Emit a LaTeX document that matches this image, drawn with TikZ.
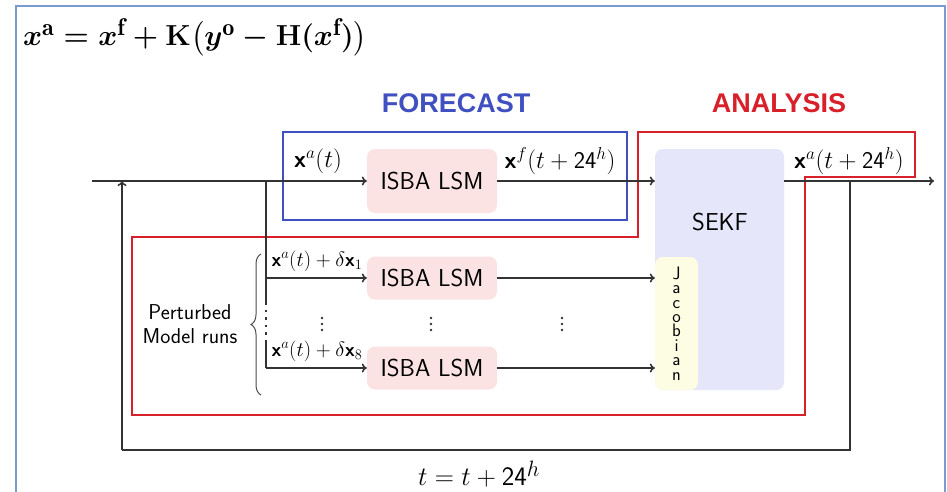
\documentclass[tikz,border=0pt]{standalone}
\usepackage{amsmath,bm,graphicx}
\usepackage{fontspec}
\newfontfamily\headfont{Liberation Sans}
\usetikzlibrary{arrows.meta,decorations.pathreplacing,calc}
\definecolor{framecol}{HTML}{7A9BD0}
\definecolor{fcblue}{HTML}{4050C0}
\definecolor{anred}{HTML}{D8202A}
\definecolor{isbafill}{HTML}{FBE3E3}
\definecolor{sekffill}{HTML}{E6E6FA}
\definecolor{jacfill}{HTML}{FDFDE4}
\tikzset{
  line/.style={line width=1.6pt, draw=black!80},
  arr/.style={line, -{To[length=5pt,width=9pt]}},
  isbabox/.style={fill=isbafill, rounded corners=8pt, inner sep=0pt, font=\sffamily\fontsize{24.5}{28}\selectfont},
  lbl/.style={inner sep=0pt, font=\sffamily\fontsize{24}{28}\selectfont},
  slbl/.style={inner sep=0pt, font=\sffamily\fontsize{19.5}{23}\selectfont},
  head/.style={inner sep=0pt, font=\headfont\bfseries\fontsize{27}{31}\selectfont},
}
\newcommand{\bx}{\textsf{\textbf{x}}}
\newcommand{\myeq}{\scalebox{1.164}{\boldmath$\bm{x}^{\mathrm{a}} = \bm{x}^{\mathrm{f}} + \mathbf{K}\bigl(\bm{y}^{\mathrm{o}} - \mathbf{H}(\bm{x}^{\mathrm{f}})\bigr)$}}
\newcommand{\jactext}{J\\a\\c\\o\\b\\i\\a\\n}
\newcommand{\myvdots}[1]{\fill[black!80] ($(#1)+(0,-6)$) circle (1.3) (#1) circle (1.3) ($(#1)+(0,6)$) circle (1.3);}
\begin{document}
\begin{tikzpicture}[x=1pt,y=-1pt]
\useasboundingbox (0,0) rectangle (947,492);
\fill[white] (0,0) rectangle (947,492);
% frame
\draw[framecol, line width=1.3pt] (16,492) -- (16,6) -- (945,6) -- (945,492);
% equation
\node[inner sep=0pt, font=\fontsize{24.88}{30}\selectfont] (eq) at (195,37) {\myeq};
% titles
\node[head, text=fcblue] (fc) at (456,103) {FORECAST};
\node[head, text=anred] (an) at (779,103) {ANALYSIS};
% boxes
\node[isbabox, minimum width=130pt, minimum height=64pt] (isba0) at (432,181) {ISBA LSM};
\node[isbabox, minimum width=130pt, minimum height=43pt] (isba1) at (432,278) {ISBA LSM};
\node[isbabox, minimum width=130pt, minimum height=43pt] (isba8) at (432,368) {ISBA LSM};
\node[fill=sekffill, rounded corners=8pt, minimum width=129pt, minimum height=241pt, inner sep=0pt] (sekf) at (719.5,269.5) {};
\node[inner sep=0pt, font=\sffamily\fontsize{24.5}{28}\selectfont] (sekftxt) at (720,222) {SEKF};
\node[fill=jacfill, rounded corners=8pt, minimum width=43pt, minimum height=133pt, inner sep=0pt, align=center, font=\sffamily\fontsize{18}{14.4}\selectfont] (jac) at (676.5,323.5) {\jactext};
% forecast / analysis frames
\draw[fcblue, line width=2pt] (283,132) rectangle (627,220);
\draw[anred, line width=2.2pt] (638,132) -- (915,132) -- (915,177) -- (805,177) -- (805,415) -- (132,415) -- (132,237) -- (638,237) -- cycle;
% main line
\coordinate (start) at (92,181);
\coordinate (br) at (266,181);
\coordinate (fbTL) at (122,181);
\coordinate (fbBL) at (122,450);
\coordinate (fbBR) at (850,450);
\coordinate (fbR) at (850,181);
\coordinate (out) at (934,181);
\draw[arr] (start) -- (isba0.west);
\draw[arr] (isba0.east) -- (isba0.east -| sekf.west);
\draw[arr] (sekf.east |- isba0.east) -- (out);
\draw[line] (fbR) -- (fbBR) -- (fbBL);
\draw[arr] (fbBL) -- (fbTL);
% branches
\coordinate (br1) at (266,278);
\coordinate (br8) at (266,368);
\coordinate (dotA) at (266,302);
\coordinate (dotB) at (266,340);
\draw[line] (br) -- (dotA);
\draw[line, dash pattern=on 2.5pt off 5pt] (dotA) -- (dotB);
\draw[line] (dotB) -- (br8);
\draw[arr] (br1) -- (isba1.west);
\draw[arr] (br8) -- (isba8.west);
\draw[arr] (isba1.east) -- (isba1.east -| jac.west);
\draw[arr] (isba8.east) -- (isba8.east -| jac.west);
% labels
\node[lbl] (l0) at (318,161) {\bx$^a(t)$};
\node[lbl] (lf) at (560,161) {\bx$^f(t+\textsf{24}^h)$};
\node[lbl] (la) at (849,161) {\bx$^a(t+\textsf{24}^h)$};
\node[slbl] (l1) at (317,261) {\bx$^a(t)+\delta$\bx$_1$};
\node[slbl] (l8) at (317,351) {\bx$^a(t)+\delta$\bx$_8$};
\coordinate (d1) at (322,324);
\coordinate (d2) at (431,324);
\coordinate (d3) at (562,324);
\myvdots{d1}
\myvdots{d2}
\myvdots{d3}
\node[inner sep=0pt, align=center, font=\sffamily\fontsize{21.5}{24}\selectfont] (pert) at (190,324) {Perturbed\\Model runs};
\draw[line width=1pt, black!70, decorate, decoration={brace, amplitude=10pt}] (261,395) -- (261,254);
\node[inner sep=0pt, font=\sffamily\fontsize{24.88}{29}\selectfont] (tt) at (479,474) {\scalebox{1.07}{$t=t+\textsf{24}^h$}};
\end{tikzpicture}
\end{document}
